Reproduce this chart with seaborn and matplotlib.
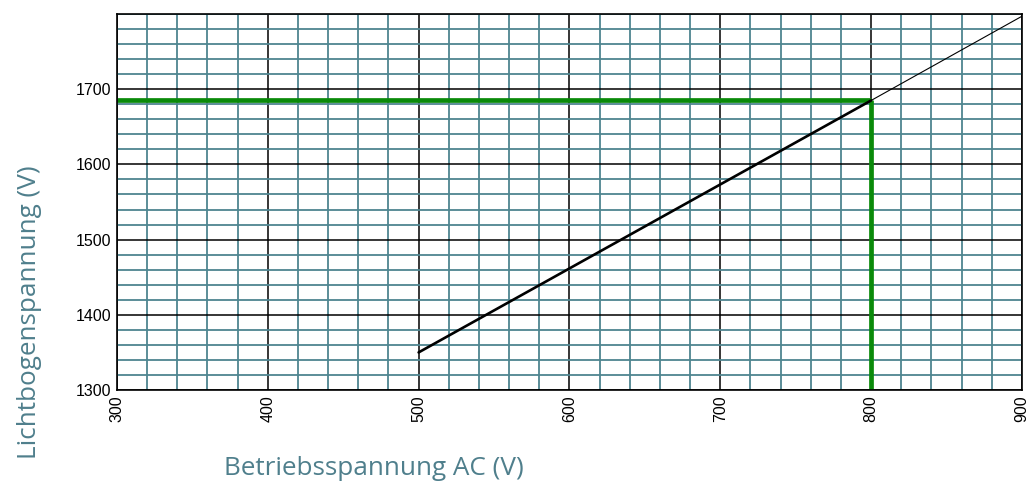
import numpy as np
import pandas as pd
import seaborn as sns
from matplotlib import pyplot as plt
from matplotlib.ticker import MultipleLocator

# arc voltage vs operating voltage
betrieb_v = [500, 800]
lichtbogen_v = [1350, 1685]
extension_v = [800, 900]
extension_lb = [1685, 1797]
marker_x = 800
marker_y = 1685

x_ticks = [300, 400, 500, 600, 700, 800, 900]
y_ticks = [1300, 1400, 1500, 1600, 1700]

label_color = '#4f7f8c'
grid_color = '#4e8590'

sns.set_theme(style='white')
plt.rcParams['font.family'] = ['Liberation Sans', 'DejaVu Sans']

fig = plt.figure(figsize=(10.26, 4.83), dpi=100)
ax = fig.add_axes([0.114, 0.1925, 0.882, 0.7785])

main = pd.DataFrame({'x': betrieb_v, 'y': lichtbogen_v})
ext = pd.DataFrame({'x': extension_v, 'y': extension_lb})

ax.set_xlim(300, 900)
ax.set_ylim(1300, 1800)

# graph paper grid
ax.xaxis.set_major_locator(MultipleLocator(100))
ax.xaxis.set_minor_locator(MultipleLocator(20))
ax.yaxis.set_major_locator(MultipleLocator(100))
ax.yaxis.set_minor_locator(MultipleLocator(20))
ax.grid(which='minor', color=grid_color, lw=1.3, zorder=0)
ax.grid(which='major', color='black', lw=1.1, zorder=1)
ax.set_axisbelow(True)

sns.lineplot(data=main, x='x', y='y', color='black', lw=1.9, ax=ax, zorder=3)
sns.lineplot(data=ext, x='x', y='y', color='black', lw=0.8, ax=ax, zorder=3)

# green guide lines
ax.plot([300, marker_x], [marker_y, marker_y], color='#0a8a0a', lw=3.4,
        solid_capstyle='butt', zorder=2)
ax.plot([marker_x, marker_x], [1300, marker_y], color='#0a8a0a', lw=3.4,
        solid_capstyle='butt', zorder=2)

ax.set_xticks(x_ticks)
ax.set_yticks(y_ticks)
ax.set_xticklabels([str(t) for t in x_ticks], rotation=90)
ax.tick_params(which='both', length=0, labelsize=11.5, colors='black', pad=4)

for s in ax.spines.values():
    s.set_color('black')
    s.set_linewidth(1.2)

ax.set_xlabel('Betriebsspannung AC (V)', fontsize=18.8, color=label_color,
              family=['Open Sans', 'DejaVu Sans'])
ax.set_ylabel('Lichtbogenspannung (V)', fontsize=18.8, color=label_color,
              family=['Open Sans', 'DejaVu Sans'])
ax.yaxis.set_label_coords(-0.083, 0.207)
ax.xaxis.set_label_coords(0.284, -0.176)

fig.savefig('out.png', dpi=100)
